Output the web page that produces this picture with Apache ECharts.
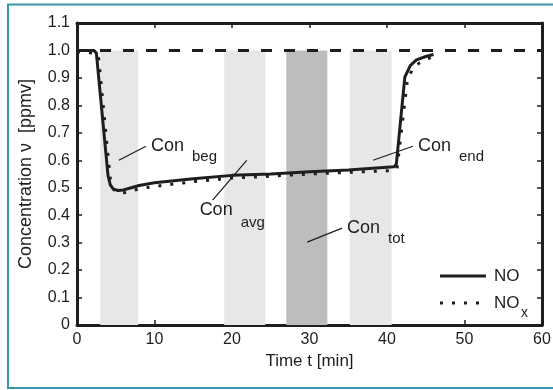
<!DOCTYPE html>
<html>
<head>
<meta charset="utf-8">
<script src="https://cdn.jsdelivr.net/npm/echarts@6/dist/echarts.min.js"></script>
<style>
html, body { margin: 0; padding: 0; background: #fff; }
#main { width: 553px; height: 390px; }
</style>
</head>
<body>
<div id="main"></div>
<script>
// time [min] / concentration [ppmv]
const timeNO = [0, 2.2, 2.5, 4.0, 4.3, 4.7, 5.3, 6.0, 7, 8, 10, 15, 20, 25, 30, 35, 40.9, 41.2, 42.3, 43.0, 43.8, 45, 46]
const valNO = [1.0, 1.0, 0.99, 0.545, 0.51, 0.495, 0.49, 0.492, 0.50, 0.508, 0.518, 0.533, 0.545, 0.55, 0.558, 0.565, 0.576, 0.585, 0.903, 0.945, 0.966, 0.978, 0.985]
const timeNOx = [0, 2.5, 2.8, 4.3, 4.7, 5.2, 5.8, 6.5, 8, 10, 15, 20, 25, 30, 35, 40.9, 41.3, 42.6, 43.3, 44.2, 45.2, 46.3]
const valNOx = [0.995, 0.99, 0.97, 0.53, 0.495, 0.482, 0.48, 0.485, 0.496, 0.505, 0.522, 0.535, 0.542, 0.55, 0.556, 0.563, 0.57, 0.885, 0.935, 0.955, 0.97, 0.98]
const refLevel = 1.0

// shaded averaging windows
const bandStart = [3.0, 19.0, 27.0, 35.2]
const bandEnd = [7.9, 24.3, 32.3, 40.6]
const bandDark = [0, 0, 1, 0]

// annotations: leader line from -> to (data coords)
const annoSub = ['beg', 'avg', 'end', 'tot']
const annoFrom = [[5.4, 0.60], [21.9, 0.60], [38.2, 0.60], [29.7, 0.302]]
const annoTo = [[8.9, 0.651], [17.5, 0.455], [43.35, 0.651], [34.2, 0.353]]

const xTicks = { min: 0, max: 60, interval: 10 }
const yTicks = { min: 0, max: 1.1, interval: 0.1 }

const font = "'Liberation Sans', Arial, sans-serif"
const ink = '#1e1e1e'

const chart = echarts.init(document.getElementById('main'))

const zip = (a, b) => a.map((v, i) => [v, b[i]])

function axis(pos, showLabel, name) {
    const isX = pos === 'bottom' || pos === 'top'
    const t = isX ? xTicks : yTicks
    return {
        type: 'value',
        position: pos,
        min: t.min, max: t.max, interval: t.interval,
        name: name || '',
        nameLocation: 'middle',
        nameGap: isX ? 27 : 42,
        nameTextStyle: { fontFamily: font, fontSize: isX ? 17 : 18, color: ink },
        axisLine: { show: true, onZero: false, lineStyle: { color: ink, width: 3 } },
        axisTick: { show: true, inside: true, length: 5, lineStyle: { color: ink, width: 1.5 } },
        axisLabel: {
            show: showLabel, fontFamily: font, fontSize: 16, color: ink, margin: 7,
            formatter: v => isX ? String(v) : (v === 0 ? '0' : v.toFixed(1))
        },
        splitLine: { show: false }
    }
}

chart.setOption({
    animation: false,
    grid: { left: 77, right: 11, top: 23, bottom: 65, outerBoundsMode: 'none' },
    xAxis: [axis('bottom', true, 'Time t [min]'), axis('top', false)],
    yAxis: [axis('left', true, 'Concentration ν  [ppmv]'), axis('right', false)],
    series: [
        {
            type: 'custom',
            z: 1,
            silent: true,
            data: bandStart.map((s, i) => [s, bandEnd[i], bandDark[i]]),
            encode: { x: [0, 1] },
            renderItem: function (params, api) {
                const p0 = api.coord([api.value(0), refLevel])
                const p1 = api.coord([api.value(1), 0])
                return {
                    type: 'rect',
                    shape: { x: p0[0], y: p0[1], width: p1[0] - p0[0], height: p1[1] - p0[1] },
                    style: { fill: api.value(2) ? '#bcbdbf' : '#e6e7e8' }
                }
            }
        },
        {
            name: 'NOx',
            type: 'line',
            z: 3,
            showSymbol: false,
            data: zip(timeNOx, valNOx),
            lineStyle: { color: ink, width: 3, type: [3, 9] }
        },
        {
            name: 'NO',
            type: 'line',
            z: 4,
            showSymbol: false,
            data: zip(timeNO, valNO),
            lineStyle: { color: ink, width: 3 },
            markLine: {
                silent: true,
                symbol: ['none', 'none'],
                label: { show: false },
                lineStyle: { color: ink, width: 3, type: [11, 12] },
                data: [{ yAxis: refLevel }]
            }
        }
    ]
})

// annotations and legend
const graphics = []
annoSub.forEach((sub, i) => {
    const a = chart.convertToPixel({ xAxisIndex: 0, yAxisIndex: 0 }, annoFrom[i])
    const b = chart.convertToPixel({ xAxisIndex: 0, yAxisIndex: 0 }, annoTo[i])
    graphics.push({ type: 'line', z: 10, shape: { x1: a[0], y1: a[1], x2: b[0], y2: b[1] }, style: { stroke: ink, lineWidth: 1.2 } })
    // text sits to the right of the leader end, except 'avg' which hangs below it
    const below = sub === 'avg'
    const tx = below ? b[0] - 13 : b[0] + 5
    const ty = below ? b[1] + 10 : b[1]
    graphics.push({ type: 'text', z: 10, x: tx, y: ty, style: { text: 'Con', font: '18px ' + font, fill: ink, verticalAlign: 'middle' } })
    graphics.push({ type: 'text', z: 10, x: tx + 41, y: ty + (below ? 13 : 11), style: { text: sub, font: '15px ' + font, fill: ink, verticalAlign: 'middle' } })
})

// legend box
graphics.push({ type: 'line', shape: { x1: 440, y1: 276, x2: 486, y2: 276 }, style: { stroke: ink, lineWidth: 3 } })
graphics.push({ type: 'line', shape: { x1: 440, y1: 303, x2: 486, y2: 303 }, style: { stroke: ink, lineWidth: 3, lineDash: [3, 9] } })
graphics.push({ type: 'text', x: 494, y: 276, style: { text: 'NO', font: '17px ' + font, fill: ink, verticalAlign: 'middle' } })
graphics.push({ type: 'text', x: 494, y: 303, style: { text: 'NO', font: '17px ' + font, fill: ink, verticalAlign: 'middle' } })
graphics.push({ type: 'text', x: 521, y: 313, style: { text: 'x', font: '14px ' + font, fill: ink, verticalAlign: 'middle' } })

// teal outer frame (open on the right)
graphics.push({ type: 'rect', shape: { x: 8, y: 4.5, width: 600, height: 383.5 }, style: { fill: null, stroke: '#3b96ab', lineWidth: 2 } })

chart.setOption({ graphic: graphics })
</script>
</body>
</html>
